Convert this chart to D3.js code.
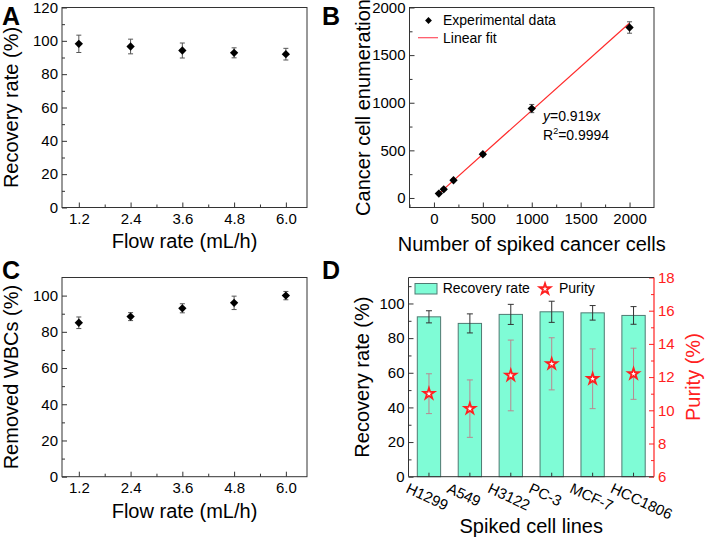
<!DOCTYPE html>
<html><head><meta charset="utf-8">
<script src="https://cdn.jsdelivr.net/npm/d3@7"></script>
<style>
body{margin:0;background:#fff;}
svg{display:block;font-family:"Liberation Sans",Arial,Helvetica,sans-serif;}
</style></head><body>
<svg id="c" width="709" height="541"></svg>
<script>
// ---- data ----
const flowRates=[1.2,2.4,3.6,4.8,6.0];
const flowTicks=["1.2","2.4","3.6","4.8","6.0"];
const recoveryA=[98.2,96.6,94.2,92.8,92.0];
const recoveryAErr=[5.2,4.4,4.5,3.0,3.5];
const spiked=[50,100,200,500,1000,2000];
const enumerated=[46,91,186,459,939,1790];
const enumeratedErr=[10,12,14,15,43,60];
const fitSlope=0.919;
const removedWBC=[85,88.4,93,96,100];
const removedWBCErr=[3.2,2.2,2.5,3.7,2.3];
const cellLines=["H1299","A549","H3122","PC-3","MCF-7","HCC1806"];
const recoveryD=[92.3,88.5,93.7,95.2,94.6,93.1];
const recoveryDErr=[3.5,5.5,5.8,6.1,4.2,5.1];
const purity=[11.0,10.1,12.1,12.8,11.9,12.2];
const purityErr=[1.2,1.73,2.13,1.57,1.8,1.54];

const svg=d3.select("#c");
const FR="#333";
const TICKF=15, TITLEF=20;

const diamond={draw(ctx,size){const r=Math.sqrt(size)*0.62;ctx.moveTo(0,-r);ctx.lineTo(r,0);ctx.lineTo(0,r);ctx.lineTo(-r,0);ctx.closePath();}};

function styleAxis(g,color){
  g.select(".domain").remove();
  g.selectAll(".tick line").attr("stroke",color||FR);
  g.selectAll(".tick text").attr("fill",color||"#000").style("font-size",TICKF+"px").style("font-family","Liberation Sans, Arial, sans-serif");
}
function frame(x0,x1,y0,y1){
  svg.append("rect").attr("x",x0).attr("y",y0).attr("width",x1-x0).attr("height",y1-y0)
    .attr("fill","none").attr("stroke",FR).attr("stroke-width",1);
}
function panelLabel(t,x,y){
  svg.append("text").attr("x",x).attr("y",y).text(t).style("font-size","25px").style("font-weight","bold");
}
function yTitle(t,x,cy,color){
  svg.append("text").attr("transform",`translate(${x},${cy}) rotate(-90)`).attr("text-anchor","middle")
    .style("font-size",TITLEF+"px").attr("fill",color||"#000").text(t);
}
function xTitle(t,cx,y){
  svg.append("text").attr("x",cx).attr("y",y).attr("text-anchor","middle").style("font-size",TITLEF+"px").text(t);
}
function errBars(g,data,cap,color,w){
  const s=g.selectAll(null).data(data).enter().append("g");
  s.append("line").attr("x1",d=>d.x).attr("x2",d=>d.x).attr("y1",d=>d.y1).attr("y2",d=>d.y2).attr("stroke",color).attr("stroke-width",w||1);
  s.append("line").attr("x1",d=>d.x-cap).attr("x2",d=>d.x+cap).attr("y1",d=>d.y1).attr("y2",d=>d.y1).attr("stroke",color).attr("stroke-width",w||1);
  s.append("line").attr("x1",d=>d.x-cap).attr("x2",d=>d.x+cap).attr("y1",d=>d.y2).attr("y2",d=>d.y2).attr("stroke",color).attr("stroke-width",w||1);
}

// ---- Panel A ----
(function(){
  const L=62,R=307,T=7.5,B=207.5;
  const x=d3.scaleLinear().domain([0.81,6.49]).range([L,R]);
  const y=d3.scaleLinear().domain([0,120]).range([B,T]);
  const g=svg.append("g");
  g.append("g").attr("transform",`translate(0,${B})`).call(d3.axisBottom(x).tickValues(flowRates).tickFormat((d,i)=>flowTicks[i]).tickSize(-5).tickPadding(6)).call(a=>styleAxis(a));
  g.append("g").attr("transform",`translate(0,${B})`).call(d3.axisBottom(x).tickValues([1.8,3.0,4.2,5.4]).tickFormat("").tickSize(-3)).call(a=>styleAxis(a));
  g.append("g").attr("transform",`translate(${L},0)`).call(d3.axisLeft(y).tickValues(d3.range(0,121,20)).tickSize(-5).tickPadding(4)).call(a=>styleAxis(a));
  g.append("g").attr("transform",`translate(${L},0)`).call(d3.axisLeft(y).tickValues(d3.range(10,111,20)).tickFormat("").tickSize(-3)).call(a=>styleAxis(a));
  frame(L,R,T,B);
  const pts=flowRates.map((f,i)=>({x:x(f),y:y(recoveryA[i]),y1:y(recoveryA[i]+recoveryAErr[i]),y2:y(recoveryA[i]-recoveryAErr[i])}));
  errBars(g,pts,2.5,"#555");
  g.selectAll(null).data(pts).enter().append("path").attr("d",d3.symbol(diamond,45)()).attr("transform",d=>`translate(${d.x},${d.y})`).attr("fill","#000");
  yTitle("Recovery rate (%)",18,(T+B)/2);
  xTitle("Flow rate (mL/h)",(L+R)/2,248);
  panelLabel("A",2,25);
})();

// ---- Panel B ----
(function(){
  const L=409.5,R=654,T=7.5,B=207.5;
  const x=d3.scaleLinear().domain([-250,2250]).range([L,R]);
  const y=d3.scaleLinear().domain([-100,2000]).range([B,T]);
  const fmt=d3.format("d");
  const g=svg.append("g");
  g.append("g").attr("transform",`translate(0,${B})`).call(d3.axisBottom(x).tickValues(d3.range(0,2001,500)).tickFormat(fmt).tickSize(-5).tickPadding(6)).call(a=>styleAxis(a));
  g.append("g").attr("transform",`translate(0,${B})`).call(d3.axisBottom(x).tickValues([-250,250,750,1250,1750]).tickFormat("").tickSize(-3)).call(a=>styleAxis(a));
  g.append("g").attr("transform",`translate(${L},0)`).call(d3.axisLeft(y).tickValues(d3.range(0,2001,500)).tickFormat(fmt).tickSize(-5).tickPadding(4)).call(a=>styleAxis(a));
  g.append("g").attr("transform",`translate(${L},0)`).call(d3.axisLeft(y).tickValues([250,750,1250,1750]).tickFormat("").tickSize(-3)).call(a=>styleAxis(a));
  frame(L,R,T,B);
  const line=d3.line().x(d=>x(d)).y(d=>y(fitSlope*d));
  g.append("path").attr("d",line([spiked[0],spiked[spiked.length-1]])).attr("stroke","#ff2a2a").attr("stroke-width",1.2).attr("fill","none");
  const pts=spiked.map((s,i)=>({x:x(s),y:y(enumerated[i]),y1:y(enumerated[i]+enumeratedErr[i]),y2:y(enumerated[i]-enumeratedErr[i])}));
  errBars(g,pts,2.5,"#555");
  g.selectAll(null).data(pts).enter().append("path").attr("d",d3.symbol(diamond,45)()).attr("transform",d=>`translate(${d.x},${d.y})`).attr("fill","#000");
  // legend
  g.append("path").attr("d",d3.symbol(diamond,30)()).attr("transform","translate(428.5,20.5)").attr("fill","#000");
  g.append("text").attr("x",443).attr("y",25).style("font-size","14px").text("Experimental data");
  g.append("line").attr("x1",418).attr("x2",438).attr("y1",37.7).attr("y2",37.7).attr("stroke","#ff5060").attr("stroke-width",1.2);
  g.append("text").attr("x",443).attr("y",42.5).style("font-size","14px").text("Linear fit");
  // annotation
  const t1=g.append("text").attr("x",543).attr("y",121).style("font-size","14px");
  t1.append("tspan").style("font-style","italic").text("y");
  t1.append("tspan").text("=0.919");
  t1.append("tspan").style("font-style","italic").text("x");
  const t2=g.append("text").attr("x",543).attr("y",140).style("font-size","14px");
  t2.append("tspan").text("R");
  t2.append("tspan").attr("dy",-6).style("font-size","9px").text("2");
  t2.append("tspan").attr("dy",6).text("=0.9994");
  yTitle("Cancer cell enumeration",370,(T+B)/2);
  xTitle("Number of spiked cancer cells",(L+R)/2,251);
  panelLabel("B",322,25);
})();

// ---- Panel C ----
(function(){
  const L=62,R=307,T=277.5,B=476.7;
  const x=d3.scaleLinear().domain([0.81,6.49]).range([L,R]);
  const y=d3.scaleLinear().domain([0,110]).range([B,T]);
  const g=svg.append("g");
  g.append("g").attr("transform",`translate(0,${B})`).call(d3.axisBottom(x).tickValues(flowRates).tickFormat((d,i)=>flowTicks[i]).tickSize(-5).tickPadding(6)).call(a=>styleAxis(a));
  g.append("g").attr("transform",`translate(0,${B})`).call(d3.axisBottom(x).tickValues([1.8,3.0,4.2,5.4]).tickFormat("").tickSize(-3)).call(a=>styleAxis(a));
  g.append("g").attr("transform",`translate(${L},0)`).call(d3.axisLeft(y).tickValues(d3.range(0,101,20)).tickSize(-5).tickPadding(4)).call(a=>styleAxis(a));
  g.append("g").attr("transform",`translate(${L},0)`).call(d3.axisLeft(y).tickValues(d3.range(10,101,20)).tickFormat("").tickSize(-3)).call(a=>styleAxis(a));
  frame(L,R,T,B);
  const pts=flowRates.map((f,i)=>({x:x(f),y:y(removedWBC[i]),y1:y(removedWBC[i]+removedWBCErr[i]),y2:y(removedWBC[i]-removedWBCErr[i])}));
  errBars(g,pts,2.5,"#555");
  g.selectAll(null).data(pts).enter().append("path").attr("d",d3.symbol(diamond,45)()).attr("transform",d=>`translate(${d.x},${d.y})`).attr("fill","#000");
  yTitle("Removed WBCs (%)",18,(T+B)/2);
  xTitle("Flow rate (mL/h)",(L+R)/2,518);
  panelLabel("C",2,279);
})();

// ---- Panel D ----
(function(){
  const L=408.5,R=654,T=277.5,B=476.7;
  const RED="#ff2020";
  const x=d3.scaleBand().domain(cellLines).range([L,R]).paddingInner(0.43).paddingOuter(0.215);
  const y=d3.scaleLinear().domain([0,115]).range([B,T]);
  const y2=d3.scaleLinear().domain([6,18]).range([B,T]);
  const g=svg.append("g");
  // bars
  g.selectAll(null).data(cellLines).enter().append("rect")
    .attr("x",d=>x(d)).attr("width",x.bandwidth())
    .attr("y",(d,i)=>y(recoveryD[i])).attr("height",(d,i)=>y(0)-y(recoveryD[i]))
    .attr("fill","#7ffcd6").attr("stroke","#4f7a72").attr("stroke-width",1);
  const cx=d=>x(d)+x.bandwidth()/2;
  errBars(g,cellLines.map((c,i)=>({x:cx(c),y1:y(recoveryD[i]+recoveryDErr[i]),y2:y(recoveryD[i]-recoveryDErr[i])})),3,"#333");
  errBars(g,cellLines.map((c,i)=>({x:cx(c),y1:y2(purity[i]+purityErr[i]),y2:y2(purity[i]-purityErr[i])})),3,"#b98890");
  const star=d3.symbol(d3.symbolStar,36)();
  g.selectAll(null).data(cellLines).enter().append("path").attr("d",star)
    .attr("transform",(d,i)=>`translate(${cx(d)},${y2(purity[i])})`)
    .attr("fill","#fff").attr("stroke",RED).attr("stroke-width",1.8).attr("stroke-linejoin","miter");
  // axes
  g.append("g").attr("transform",`translate(0,${B})`).call(d3.axisBottom(x).tickSize(-4).tickFormat("")).call(a=>styleAxis(a));
  g.append("g").attr("transform",`translate(${L},0)`).call(d3.axisLeft(y).tickValues(d3.range(0,101,20)).tickSize(-5).tickPadding(4)).call(a=>styleAxis(a));
  g.append("g").attr("transform",`translate(${L},0)`).call(d3.axisLeft(y).tickValues(d3.range(10,111,20)).tickFormat("").tickSize(-3)).call(a=>styleAxis(a));
  g.append("g").attr("transform",`translate(${R},0)`).call(d3.axisRight(y2).tickValues(d3.range(6,19,2)).tickSize(-5).tickPadding(4)).call(a=>styleAxis(a,RED));
  g.append("g").attr("transform",`translate(${R},0)`).call(d3.axisRight(y2).tickValues(d3.range(7,18,2)).tickFormat("").tickSize(-3)).call(a=>styleAxis(a,RED));
  // frame: black left/top/bottom, red right
  g.append("path").attr("d",`M${R},${T}H${L}V${B}H${R}`).attr("fill","none").attr("stroke",FR);
  g.append("line").attr("x1",R).attr("x2",R).attr("y1",T).attr("y2",B).attr("stroke",RED).attr("stroke-width",1.2);
  // rotated tick labels
  g.selectAll(null).data(cellLines).enter().append("text")
    .attr("transform",d=>`translate(${cx(d)-24},${492}) rotate(25)`)
    .style("font-size",TICKF+"px").text(d=>d);
  // legend
  g.append("rect").attr("x",415).attr("y",283.5).attr("width",22).attr("height",10.5).attr("fill","#7ffcd6").attr("stroke","#4f7a72");
  g.append("text").attr("x",442.7).attr("y",293).style("font-size","14px").text("Recovery rate");
  g.append("path").attr("d",star).attr("transform","translate(545,289)").attr("fill","#fff").attr("stroke",RED).attr("stroke-width",1.8);
  g.append("text").attr("x",559).attr("y",293).style("font-size","14px").text("Purity");
  yTitle("Recovery rate (%)",369,(T+B)/2);
  yTitle("Purity (%)",700,(T+B)/2,RED);
  xTitle("Spiked cell lines",(L+R)/2,533);
  panelLabel("D",322,279);
})();
</script>
</body></html>
